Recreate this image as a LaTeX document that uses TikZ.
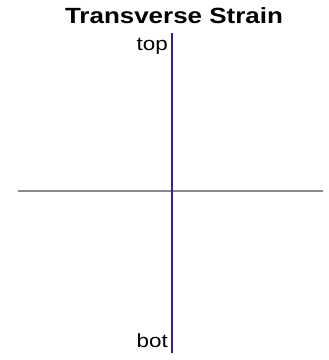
\documentclass[tikz,border=0pt]{standalone}
\usepackage{fontspec}
\setmainfont{Liberation Sans}
\usetikzlibrary{positioning}
\definecolor{strainblue}{HTML}{2E23A0}
\definecolor{axisgray}{HTML}{8A8A8A}

\begin{document}
\begin{tikzpicture}[x=1pt, y=-1pt, every node/.style={inner sep=0pt, xscale=1.18, transform shape}]
    \useasboundingbox (0,0) rectangle (329,360);
    \node[anchor=base, font=\fontsize{22}{26}\selectfont\bfseries] (title) at (174,23) {Transverse Strain};
    \coordinate (topend) at (172,33);
    \coordinate (botend) at (172,353);
    \coordinate (west) at (18,191);
    \coordinate (east) at (323,191);
    \draw[axisgray, line width=1.3pt] (west) -- (east);
    \draw[strainblue, line width=2pt] (topend) -- (botend);
    \node[anchor=base east, font=\fontsize{19}{22}\selectfont] (top) at (168,50) {top};
    \node[anchor=base east, font=\fontsize{19}{22}\selectfont] (bot) at (168,347) {bot};
  \end{tikzpicture}
\end{document}
